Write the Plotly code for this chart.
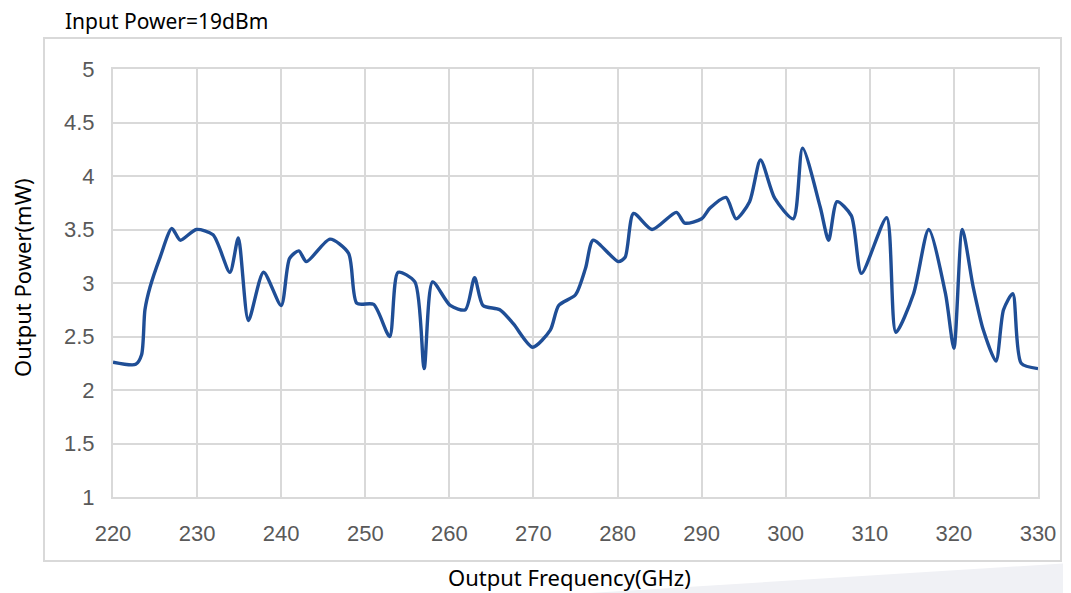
import plotly.graph_objects as go

freq = [220, 222.7, 223.4, 223.8, 224.4, 225.6, 227.0, 228.0, 229.9, 231.9, 233.9, 234.9,
        236.1, 237.9, 240.0, 241.0, 242.1, 243.0, 245.8, 248.0, 249.0, 251.0, 252.9, 253.9,
        255.9, 257.0, 258.0, 260.1, 261.9, 263.0, 264.0, 266.0, 267.6, 269.9, 272.0, 273.0,
        275.0, 276.2, 277.1, 280.1, 280.9, 281.9, 284.1, 287.0, 288.0, 290.0, 291.0, 292.9,
        294.1, 295.7, 297.0, 298.7, 300.9, 302.0, 304.1, 305.1, 306.1, 307.8, 309.0, 312.0,
        313.1, 315.2, 317.0, 319.0, 320.0, 321.0, 322.3, 323.5, 325.0, 325.9, 327.0, 328.0,
        330.0]
power = [2.26, 2.24, 2.33, 2.75, 2.96, 3.24, 3.51, 3.40, 3.50, 3.45, 3.10, 3.42,
         2.65, 3.10, 2.79, 3.23, 3.30, 3.20, 3.41, 3.28, 2.81, 2.80, 2.50, 3.10,
         3.01, 2.20, 3.01, 2.79, 2.75, 3.05, 2.79, 2.75, 2.62, 2.40, 2.56, 2.79,
         2.89, 3.14, 3.40, 3.20, 3.24, 3.65, 3.50, 3.66, 3.56, 3.60, 3.70, 3.80,
         3.60, 3.76, 4.15, 3.79, 3.60, 4.26, 3.71, 3.40, 3.76, 3.63, 3.09, 3.61,
         2.54, 2.90, 3.50, 2.90, 2.39, 3.50, 2.96, 2.56, 2.27, 2.75, 2.90, 2.25,
         2.20]

x_ticks = [220, 230, 240, 250, 260, 270, 280, 290, 300, 310, 320, 330]
y_ticks = [1, 1.5, 2, 2.5, 3, 3.5, 4, 4.5, 5]
y_tick_text = ["1", "1.5", "2", "2.5", "3", "3.5", "4", "4.5", "5"]

title_text = "Input Power=19dBm"
x_title = "Output Frequency(GHz)"
y_title = "Output Power(mW)"

OFF = 8  # page body margin
W, H = 1071 - OFF, 593 - OFF
L, T = 113 - OFF, 69 - OFF
R = W - (1038 - OFF)
B = H - (497 - OFF)
pw, ph = W - L - R, H - T - B


def px(x):
    return (x - OFF - L) / pw


def py(y):
    return (H - B - (y - OFF)) / ph


fig = go.Figure()
fig.add_trace(go.Scatter(
    x=freq, y=power, mode="lines",
    line=dict(color="#1f4e96", width=3.4, shape="spline", smoothing=0.7),
    showlegend=False, hoverinfo="x+y",
))

tick_font = dict(family="Liberation Sans, Arial, sans-serif", size=22, color="#595959")
text_font = dict(family="Noto Sans, Open Sans, sans-serif", size=22, color="#000000")

fig.update_layout(
    width=W, height=H,
    margin=dict(l=L, r=R, t=T, b=B),
    paper_bgcolor="white", plot_bgcolor="white",
    xaxis=dict(
        range=[220, 330], tickvals=x_ticks, ticktext=[str(v) for v in x_ticks],
        showgrid=True, gridcolor="#d9d9d9", gridwidth=1.5,
        showline=True, linecolor="#d9d9d9", linewidth=2, mirror=True,
        ticks="outside", ticklen=16, tickcolor="rgba(0,0,0,0)",
        tickfont=tick_font, zeroline=False,
    ),
    yaxis=dict(
        range=[1, 5], tickvals=y_ticks, ticktext=y_tick_text,
        showgrid=True, gridcolor="#d9d9d9", gridwidth=1.5,
        showline=True, linecolor="#d9d9d9", linewidth=2, mirror=True,
        ticks="outside", ticklen=12, tickcolor="rgba(0,0,0,0)",
        tickfont=tick_font, zeroline=False,
    ),
    shapes=[
        dict(type="path", xref="paper", yref="paper",
             path=f"M {px(590)},{py(593)} L {px(1071)},{py(563)} L {px(1071)},{py(593)} Z",
             fillcolor="#f0f1f5", line=dict(width=0), layer="below"),
        dict(type="rect", xref="paper", yref="paper",
             x0=px(44), x1=px(1061), y0=py(561), y1=py(38),
             line=dict(color="#d9d9d9", width=2), fillcolor="rgba(0,0,0,0)", layer="below"),
    ],
    annotations=[
        dict(text=title_text, xref="paper", yref="paper", x=px(63), y=py(21),
             xanchor="left", yanchor="middle", showarrow=False,
             font=dict(family="Noto Sans, Open Sans, sans-serif", size=21, color="#000000")),
        dict(text=x_title, xref="paper", yref="paper", x=px(569), y=py(577),
             xanchor="center", yanchor="middle", showarrow=False, font=text_font),
        dict(text=y_title, xref="paper", yref="paper", x=px(22), y=py(278),
             xanchor="center", yanchor="middle", showarrow=False, textangle=-90,
             font=text_font),
    ],
)

fig.write_html("out.html")
